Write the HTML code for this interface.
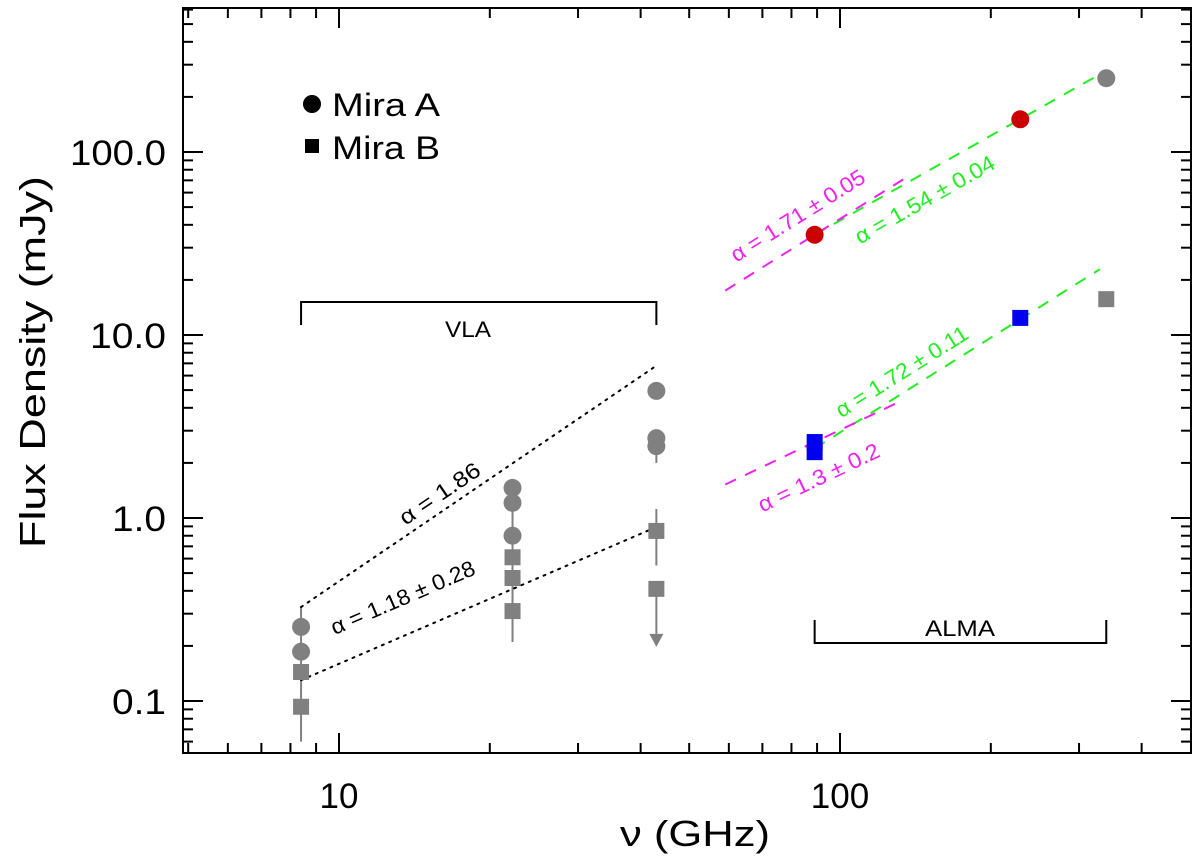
<!DOCTYPE html>
<html><head><meta charset="utf-8"><style>
body{margin:0;background:#fff}
svg{display:block;font-family:"Liberation Sans",sans-serif}
</style></head><body>
<svg id="chart" width="1200" height="858" xmlns="http://www.w3.org/2000/svg"></svg>
<script>
// ---- data ----
const xTickLabels = [10, 100];
const yTickLabels = ["0.1", "1.0", "10.0", "100.0"];
const yTickValues = [0.1, 1, 10, 100];
const miraAFreq = [8.4, 8.4, 22.2, 22.2, 22.2, 43, 43, 43];
const miraAFlux = [0.254, 0.186, 1.46, 1.21, 0.80, 4.95, 2.73, 2.47];
const miraBFreq = [8.4, 8.4, 22.2, 22.2, 22.2, 43];
const miraBFlux = [0.144, 0.093, 0.61, 0.47, 0.31, 0.85];
const miraBLimitFreq = [43];
const miraBLimitFlux = [0.41];
const almaAFreq = [89, 229];
const almaAFlux = [35.3, 150.9];
const almaBFreq = [89, 89, 229];
const almaBFlux = [2.6, 2.29, 12.4];
const grayHiAFreq = [340];
const grayHiAFlux = [253];
const grayHiBFreq = [340];
const grayHiBFlux = [15.7];
const errFreq = [8.4, 22.2, 43, 43];
const errLo = [0.06, 0.21, 2.0, 0.55];
const errHi = [0.33, 1.55, 2.9, 1.12];
const fitNames = ["fit-vla-a","fit-vla-b","fit-alma-a-green","fit-alma-b-green","fit-alma-a-magenta","fit-alma-b-magenta"];
const fitF0 = [8.4, 8.4, 89, 89, 59, 59];
const fitF1 = [43, 43, 340, 330, 135, 130];
const fitAnchorF = [8.4, 8.4, 89, 89, 89, 89];
const fitAnchorV = [0.326, 0.13, 35.3, 2.4, 35.3, 2.6];
const fitAlpha = [1.86, 1.18, 1.54, 1.72, 1.71, 1.3];
const fitLabels = ["α = 1.86","α = 1.18 ± 0.28","α = 1.54 ± 0.04","α = 1.72 ± 0.11","α = 1.71 ± 0.05","α = 1.3 ± 0.2"];

// ---- layout ----
const L=183,R=1191,T=8,B=753;
const X=f=>339+501*Math.log10(f/10);
const Y=v=>518-183*Math.log10(v);
const svg=document.getElementById('chart');
const NS="http://www.w3.org/2000/svg";
function mk(tag,attrs,parent){const e=document.createElementNS(NS,tag);for(const k in attrs)e.setAttribute(k,attrs[k]);(parent||svg).appendChild(e);return e;}

const frame=mk('rect',{x:L,y:T,width:R-L,height:B-T,fill:'none',stroke:'#000','stroke-width':2});



const xt=mk('g',{stroke:'#000','stroke-width':2});


for(let d=1;d<=100;d*=10){for(let m=1;m<=9;m++){const f=m*d;const x=X(f);if(x<L+1||x>R-1)continue;const len=m===1?20:10;
mk('line',{x1:x,y1:B,x2:x,y2:B-len},xt);mk('line',{x1:x,y1:T,x2:x,y2:T+len},xt);}}
const yt=mk('g',{stroke:'#000','stroke-width':2});


for(let d=0.01;d<=1000;d*=10){for(let m=1;m<=9;m++){const v=m*d;const y=Y(v);if(y<T+1||y>B-1)continue;const len=m===1?20:10;
mk('line',{x1:L,y1:y,x2:L+len,y2:y},yt);mk('line',{x1:R,y1:y,x2:R-len,y2:y},yt);}}

xTickLabels.forEach(v=>{const t=mk('text',{x:X(v),y:808,'font-size':35,'text-anchor':'middle'});t.textContent=v;

});
const yw={"0.1":54,"1.0":54,"10.0":76,"100.0":96};
yTickLabels.forEach((s,i)=>{const w=yw[s];const t=mk('text',{x:166-w,y:Y(yTickValues[i])+13,'font-size':35,textLength:w,lengthAdjust:'spacingAndGlyphs'});t.textContent=s;

});

const xtitle=mk('text',{x:620,y:846,'font-size':36,textLength:150,lengthAdjust:'spacingAndGlyphs'});xtitle.textContent='ν (GHz)';


const ytitle=mk('text',{x:-186,y:0,'font-size':36,textLength:372,lengthAdjust:'spacingAndGlyphs',transform:'translate(45,362) rotate(-90)'});ytitle.textContent='Flux Density (mJy)';



errFreq.forEach((f,i)=>{const l=mk('line',{x1:X(f),x2:X(f),y1:Y(errLo[i]),y2:Y(errHi[i]),stroke:'#808080','stroke-width':2});

});
miraBLimitFreq.forEach((f,i)=>{const x=X(f),y=Y(miraBLimitFlux[i]);
const l=mk('line',{x1:x,x2:x,y1:y,y2:y+45,stroke:'#808080','stroke-width':2});


const p=mk('polygon',{points:`${x-7},${y+45} ${x+7},${y+45} ${x},${y+58}`,fill:'#808080'});

});

const colors=['#000','#000','#22ee22','#22ee22','#ee22ee','#ee22ee'];
const labelPos=[[440,494],[403,598],[925,200],[902,372],[798,216],[819,478]];
const labelLen=[93,155,157,152,154,132];
fitNames.forEach((n,i)=>{const v0=fitAnchorV[i]*Math.pow(fitF0[i]/fitAnchorF[i],fitAlpha[i]);const v1=fitAnchorV[i]*Math.pow(fitF1[i]/fitAnchorF[i],fitAlpha[i]);
const dotted=i<2;
const l=mk('line',{x1:X(fitF0[i]),y1:Y(v0),x2:X(fitF1[i]),y2:Y(v1),stroke:colors[i],'stroke-width':2,'stroke-dasharray':dotted?'2 6':'12 10','stroke-linecap':dotted?'round':'butt'});


const ang=-Math.atan(fitAlpha[i]*183/501)*180/Math.PI;
const [cx,cy]=labelPos[i];
const t=mk('text',{x:-labelLen[i]/2,y:7,'font-size':22,textLength:labelLen[i],lengthAdjust:'spacingAndGlyphs',fill:colors[i],transform:`translate(${cx},${cy}) rotate(${ang})`});t.textContent=fitLabels[i];

});

function circles(fs,vs,col,name){fs.forEach((f,i)=>{const c=mk('circle',{cx:X(f),cy:Y(vs[i]),r:9,fill:col});

});}
function squares(fs,vs,col,name){fs.forEach((f,i)=>{const s=mk('rect',{x:X(f)-8,y:Y(vs[i])-8,width:16,height:16,fill:col});

});}
circles(miraAFreq,miraAFlux,'#808080','mira-a-vla-point');
squares(miraBFreq,miraBFlux,'#808080','mira-b-vla-point');
squares(miraBLimitFreq,miraBLimitFlux,'#808080','mira-b-limit-point');
circles(almaAFreq,almaAFlux,'#cc0000','mira-a-alma-point');
squares(almaBFreq,almaBFlux,'#0000ee','mira-b-alma-point');
circles(grayHiAFreq,grayHiAFlux,'#808080','mira-a-high-point');
squares(grayHiBFreq,grayHiBFlux,'#808080','mira-b-high-point');

const vla=mk('path',{d:`M${X(8.4)},325 V302 H${X(43)} V325`,fill:'none',stroke:'#000','stroke-width':2});


const vt=mk('text',{x:445,y:337,'font-size':22,textLength:46,lengthAdjust:'spacingAndGlyphs'});vt.textContent='VLA';


const alma=mk('path',{d:`M${X(89)},620 V643 H${X(340)} V620`,fill:'none',stroke:'#000','stroke-width':2});


const at=mk('text',{x:925,y:636,'font-size':22,textLength:70,lengthAdjust:'spacingAndGlyphs'});at.textContent='ALMA';



const lg=mk('g',{});


mk('circle',{cx:312,cy:104,r:9,fill:'#000'},lg);
const la=mk('text',{x:332,y:116,'font-size':32,textLength:108,lengthAdjust:'spacingAndGlyphs'},lg);la.textContent='Mira A';


mk('rect',{x:305,y:139,width:14,height:14,fill:'#000'},lg);
const lb=mk('text',{x:332,y:159,'font-size':32,textLength:108,lengthAdjust:'spacingAndGlyphs'},lg);lb.textContent='Mira B';


</script>
</body></html>
